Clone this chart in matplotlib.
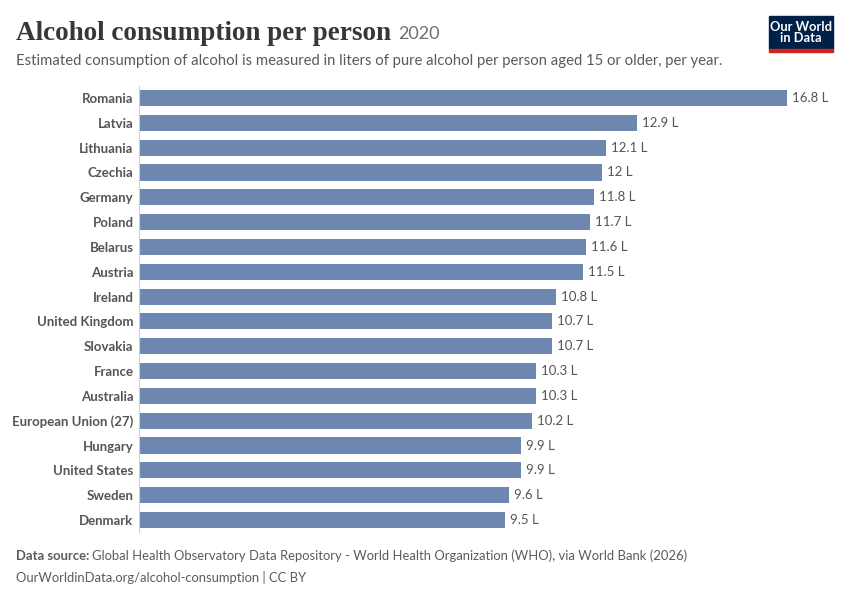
import matplotlib.pyplot as plt
from matplotlib.patches import Rectangle

# Data (liters of pure alcohol per person, 2020)
countries = ['Romania', 'Latvia', 'Lithuania', 'Czechia', 'Germany', 'Poland',
             'Belarus', 'Austria', 'Ireland', 'United Kingdom', 'Slovakia',
             'France', 'Australia', 'European Union (27)', 'Hungary',
             'United States', 'Sweden', 'Denmark']
values = [16.8, 12.9, 12.1, 12.0, 11.8, 11.7, 11.6, 11.5, 10.8, 10.7, 10.7,
          10.3, 10.3, 10.2, 9.9, 9.9, 9.6, 9.5]
value_labels = ['16.8 L', '12.9 L', '12.1 L', '12 L', '11.8 L', '11.7 L',
                '11.6 L', '11.5 L', '10.8 L', '10.7 L', '10.7 L', '10.3 L',
                '10.3 L', '10.2 L', '9.9 L', '9.9 L', '9.6 L', '9.5 L']

W, H = 850, 600
fig = plt.figure(figsize=(W / 100, H / 100), dpi=100)
fig.patch.set_facecolor('white')

bar_color = '#6D87B1'
label_color = '#555555'
text_grey = '#5b5b5b'

# axes placed in pixel coordinates of the reference
left, right = 139, 787
top, bottom = 85.6, 532.4
ax = fig.add_axes([left / W, 1 - bottom / H, (right - left) / W, (bottom - top) / H])

y = list(range(len(countries)))
ax.barh(y, values, height=0.65, color=bar_color)
ax.set_xlim(0, 16.8)
ax.set_ylim(len(countries) - 0.5, -0.5)

for yi, v, lab in zip(y, values, value_labels):
    ax.text(v + 0.13, yi, lab, va='center', ha='left', fontsize=9.5,
            family='Lato', color=label_color, clip_on=False)

ax.set_yticks(y)
ax.set_yticklabels(countries, fontsize=9.5, family='Lato', fontweight='bold',
                   color=label_color)
ax.tick_params(axis='y', length=0, pad=4)
ax.set_xticks([])
for s in ['top', 'right', 'bottom']:
    ax.spines[s].set_visible(False)
ax.spines['left'].set_color('#d0d0d0')
ax.spines['left'].set_linewidth(0.8)

renderer = fig.canvas.get_renderer()

# Title and subtitle
title = fig.text(16 / W, 1 - 33 / H, 'Alcohol consumption per person',
                 fontsize=19.5, family='Liberation Serif', fontweight='bold',
                 color='#373737', va='center', ha='left')
tb = title.get_window_extent(renderer)
fig.text((tb.x1 + 7) / W, 1 - 34 / H, '2020', fontsize=13, family='Lato',
         color='#6e6e6e', va='center', ha='left')
fig.text(16 / W, 1 - 61 / H,
         'Estimated consumption of alcohol is measured in liters of pure alcohol per person aged 15 or older, per year.',
         fontsize=10.7, family='Lato', color=text_grey, va='center', ha='left')

# Footer
src = fig.text(16 / W, 1 - 556 / H, 'Data source:', fontsize=9.35, family='Lato',
               fontweight='bold', color=text_grey, va='center', ha='left')
sb = src.get_window_extent(renderer)
fig.text((sb.x1 + 3) / W, 1 - 556 / H,
         'Global Health Observatory Data Repository - World Health Organization (WHO), via World Bank (2026)',
         fontsize=9.35, family='Lato', color=text_grey, va='center', ha='left')
fig.text(16 / W, 1 - 577 / H, 'OurWorldinData.org/alcohol-consumption | CC BY',
         fontsize=9.35, family='Lato', color=text_grey, va='center', ha='left')

# Logo
fig.patches.append(Rectangle((769 / W, 1 - 49 / H), 64 / W, 33 / H,
                             transform=fig.transFigure, color='#002147'))
fig.patches.append(Rectangle((769 / W, 1 - 52 / H), 64 / W, 3 / H,
                             transform=fig.transFigure, color='#CE261E'))
fig.text(801 / W, 1 - 32.5 / H, 'Our World\nin Data', fontsize=9.3,
         family='Lato', fontweight='bold', color='white', ha='center',
         va='center', linespacing=0.95)

fig.savefig('out.png', dpi=100, facecolor='white')
